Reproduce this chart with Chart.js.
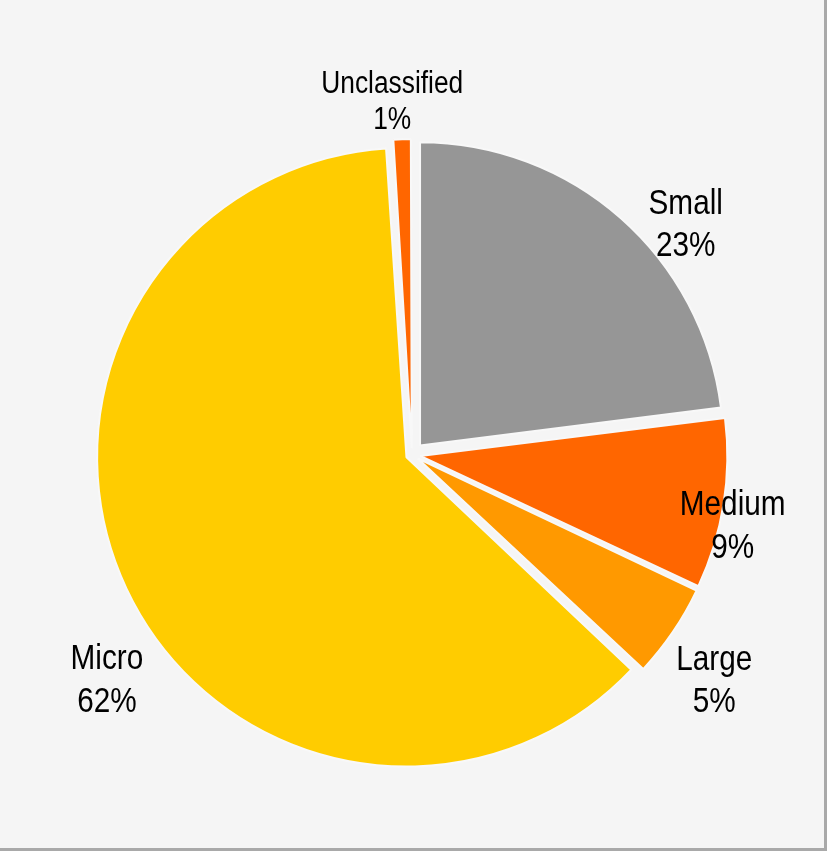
<!DOCTYPE html>
<html>
<head>
<meta charset="utf-8">
<script src="https://cdn.jsdelivr.net/npm/chart.js@4.4.1/dist/chart.umd.min.js"></script>
<style>
    html, body { margin: 0; padding: 0; background: #ffffff; }
    .chart-box {
        width: 824px;
        height: 848px;
        background: #f5f5f5;
        border-right: 3px solid #a9a9a9;
        border-bottom: 3px solid #a9a9a9;
    }
    canvas { display: block; }
</style>
</head>
<body>
<div class="chart-box">
    <canvas id="pieChart" width="824" height="848"></canvas>
</div>
<script>
// Enterprise size breakdown
const sizeLabels = ["Small", "Medium", "Large", "Micro", "Unclassified"];
const sizeShares = [23, 9, 5, 62, 1];
const sliceColors = ["#969696", "#ff6600", "#ff9900", "#ffcc00", "#ff6600"];

// every slice pulled out of the centre by the same distance (px)
const EXPLODE = 12.25;

// where each label sits: distance as a multiple of the radius, and a turn (degrees) off the slice middle
const labelPlacement = [
    { ratio: 1.1435, turn: 8.6 },
    { ratio: 1.0416, turn: 3.28 },
    { ratio: 1.20, turn: 2.4 },
    { ratio: 1.207, turn: -11.35 },
    { ratio: 1.131, turn: -1.44 }
];

// ArcElement moves by offset/4 * (2 - sin(min(PI, circumference))), so undo that to get an even pull
function sliceOffset(context) {
    const data = context.dataset.data;
    const total = data.reduce((s, v) => s + v, 0);
    const circ = data[context.dataIndex] / total * Math.PI * 2;
    const fix = 1 - Math.sin(Math.min(Math.PI, circ));
    return 4 * EXPLODE / (1 + fix);
}

const sliceLabels = {
    id: 'sliceLabels',
    afterDatasetsDraw(chart) {
        const c = chart.ctx;
        const meta = chart.getDatasetMeta(0);
        meta.data.forEach((arc, i) => {
            const p = arc.getProps(['x', 'y', 'startAngle', 'endAngle', 'outerRadius']);
            const mid = (p.startAngle + p.endAngle) / 2;
            const cx = p.x + Math.cos(mid) * EXPLODE;
            const cy = p.y + Math.sin(mid) * EXPLODE;
            const place = labelPlacement[i];
            const a = mid + place.turn * Math.PI / 180;
            const r = p.outerRadius * place.ratio;
            const lx = cx + Math.cos(a) * r;
            const ly = cy + Math.sin(a) * r;

            const small = sizeLabels[i] === 'Unclassified';
            const size = small ? 31 : 35;
            const lh = small ? 36 : 42.5;
            const cap = size * 0.72;
            const lines = [sizeLabels[i], sizeShares[i] + '%'];
            c.save();
            c.font = size + 'px "Liberation Sans Narrow", "Arial Narrow", "Liberation Sans", sans-serif';
            c.fillStyle = '#000000';
            c.textAlign = 'center';
            c.textBaseline = 'alphabetic';
            lines.forEach((txt, k) => {
                const by = ly + (k === 0 ? -lh / 2 : lh / 2) + cap / 2;
                c.save();
                c.translate(lx, by);
                c.scale(0.85, 1); // narrow face
                c.fillText(txt, 0, 0);
                c.restore();
            });
            c.restore();
        });
    }
};

const ctx = document.getElementById('pieChart').getContext('2d');
new Chart(ctx, {
    type: 'pie',
    data: {
        labels: sizeLabels,
        datasets: [{
            data: sizeShares,
            backgroundColor: sliceColors,
            borderColor: '#f8f8f8',
            borderWidth: 2,
            offset: sliceOffset
        }]
    },
    options: {
        responsive: false,
        animation: false,
        radius: 303.2,
        layout: { padding: { top: 61.2 } },
        plugins: {
            legend: { display: false },
            tooltip: { enabled: false }
        }
    },
    plugins: [sliceLabels]
});
</script>
</body>
</html>
